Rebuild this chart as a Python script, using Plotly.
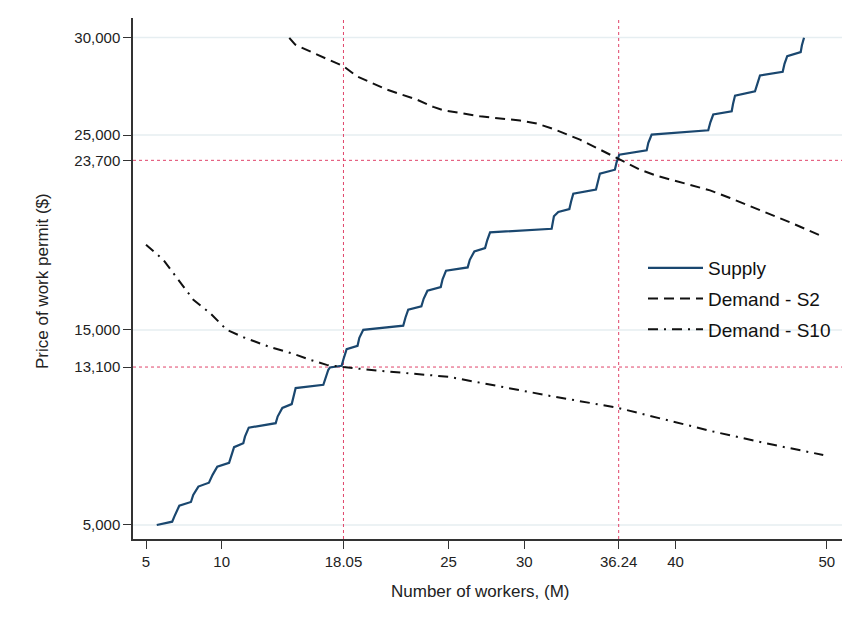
import plotly.graph_objects as go

# ---------------- data ----------------
supply_x = [5.71, 6.73, 6.87, 7.20, 7.97, 8.12, 8.46, 9.16, 9.40, 9.71,
            10.49, 10.67, 10.82, 11.43, 11.54, 11.79, 13.57, 13.70, 14.01,
            14.63, 14.74, 14.89, 16.72, 17.05, 17.16, 17.93, 18.05, 18.26,
            18.98, 19.10, 19.36, 22.00, 22.15, 22.33, 23.20, 23.35, 23.60,
            24.48, 24.60, 24.83, 26.26, 26.40, 26.70, 27.41, 27.55, 27.74,
            31.81, 31.96, 32.25, 32.98, 33.10, 33.24, 34.74, 34.85, 35.00,
            35.99, 36.10, 36.28, 38.09, 38.20, 38.42, 42.16, 42.30, 42.49,
            43.71, 43.80, 43.93, 45.25, 45.40, 45.58, 47.08, 47.20, 47.38,
            48.27, 48.35, 48.49]
supply_y = [5000, 5170, 5430, 5990, 6180, 6540, 6970, 7170, 7570, 7990,
            8190, 8590, 8990, 9190, 9530, 9990, 10220, 10560, 11000,
            11200, 11590, 12020, 12190, 12960, 13080, 13160, 13500, 14020,
            14190, 14600, 15010, 15220, 15640, 16040, 16210, 16600, 17010,
            17200, 17600, 18040, 18210, 18600, 19030, 19200, 19600, 20010,
            20190, 20830, 21050, 21200, 21600, 21990, 22200, 22600, 23020,
            23220, 23600, 23990, 24210, 24600, 25020, 25240, 25650, 26050,
            26220, 26600, 27020, 27240, 27650, 28050, 28240, 28650, 29040,
            29250, 29600, 29990]

s2_x = [14.47, 14.85, 16.28, 18.04, 18.93, 20.91, 22.89, 23.99, 24.65,
        27.08, 29.72, 30.82, 31.92, 33.68, 35.01, 36.33, 37.65, 38.75,
        40.74, 42.28, 43.60, 45.80, 47.78, 49.70]
s2_y = [29980, 29640, 29130, 28530, 28010, 27330, 26820, 26440, 26270,
        25960, 25740, 25590, 25310, 24760, 24250, 23740, 23220, 22910,
        22500, 22160, 21770, 21080, 20450, 19800]

s10_x = [5.00, 5.59, 6.14, 7.13, 8.13, 9.23, 10.33, 11.43, 13.20, 14.74,
         15.84, 16.94, 18.04, 20.24, 25.00, 28.62, 31.70, 36.11, 39.41,
         42.49, 46.46, 49.76]
s10_y = [19370, 18950, 18600, 17580, 16550, 15870, 15010, 14630, 14120,
         13780, 13470, 13210, 13100, 12920, 12600, 12070, 11620, 11020,
         10390, 9790, 9110, 8590]

x_ticks = [5, 10, 18.05, 25, 30, 36.24, 40, 50]
x_tick_labels = ["5", "10", "18.05", "25", "30", "36.24", "40", "50"]
y_ticks = [5000, 13100, 15000, 23700, 25000, 30000]
y_tick_labels = ["5,000", "13,100", "15,000", "23,700", "25,000", "30,000"]
grid_y = [5000, 15000, 25000, 30000]
eq_x = [18.05, 36.24]
eq_y = [13100, 23700]

series_names = ["Supply", "Demand - S2", "Demand - S10"]
x_title = "Number of workers, (M)"
y_title = "Price of work permit ($)"

# ---------------- figure ----------------
X_RANGE = [4.14, 51.0]
Y_RANGE = [4281, 31000]
FONT = "Liberation Sans, Arial, sans-serif"
GRID_C = "#e6eef1"
RED = "#e0446a"

OFF = 8  # page body margin in the browser
ML, MR, MT, MB = 133 - OFF, 9 + OFF, 18 - OFF, 86 + OFF
PW, PH = 851 - ML - MR, 625 - MT - MB


def px_x(p):  # screen pixel -> paper x
    return (p - OFF - ML) / PW


def px_y(p):  # screen pixel -> paper y
    return (MT + PH - (p - OFF)) / PH


fig = go.Figure()

shapes = []
for gy in grid_y:
    shapes.append(dict(type="line", xref="paper", x0=0, x1=1, yref="y", y0=gy, y1=gy,
                       line=dict(color=GRID_C, width=1.5), layer="below"))
for ey in eq_y:
    shapes.append(dict(type="line", xref="paper", x0=0, x1=1, yref="y", y0=ey, y1=ey,
                       line=dict(color=RED, width=1, dash="dot"), layer="below"))
for ex in eq_x:
    shapes.append(dict(type="line", xref="x", x0=ex, x1=ex, yref="paper", y0=0, y1=1,
                       line=dict(color=RED, width=1, dash="dot"), layer="below"))

fig.add_trace(go.Scatter(x=supply_x, y=supply_y, mode="lines", name=series_names[0],
                         legendgroup="a",
                         line=dict(color="#1a476f", width=2.2)))
fig.add_trace(go.Scatter(x=s2_x, y=s2_y, mode="lines", name=series_names[1],
                         legendgroup="b",
                         line=dict(color="#111111", width=2, dash="10px,6px")))
fig.add_trace(go.Scatter(x=s10_x, y=s10_y, mode="lines", name=series_names[2],
                         legendgroup="c",
                         line=dict(color="#111111", width=2, dash="10px,6px,2px,6px")))

annotations = [
    dict(text=x_title, xref="paper", yref="paper", x=px_x(480), y=px_y(591),
         xanchor="center", yanchor="middle", showarrow=False,
         font=dict(size=17, color="#222222", family=FONT)),
    dict(text=y_title, xref="paper", yref="paper", x=px_x(42), y=px_y(281), textangle=-90,
         xanchor="center", yanchor="middle", showarrow=False,
         font=dict(size=17, color="#222222", family=FONT)),
]

fig.update_layout(
    width=851, height=625,
    margin=dict(l=ML, r=MR, t=MT, b=MB, autoexpand=False),
    paper_bgcolor="white", plot_bgcolor="white",
    font=dict(family=FONT, color="#222222"),
    shapes=shapes,
    annotations=annotations,
    showlegend=True,
    legend=dict(x=px_x(643), y=px_y(249), xanchor="left", yanchor="top",
                bgcolor="rgba(0,0,0,0)", font=dict(size=19, color="#111111"),
                itemwidth=55, tracegroupgap=3, traceorder="grouped"),
    xaxis=dict(range=X_RANGE, tickmode="array", tickvals=x_ticks, ticktext=x_tick_labels,
               showgrid=False, zeroline=False, showline=True, linecolor="#333333",
               linewidth=1.5, ticks="outside", ticklen=8, tickwidth=1.2, tickcolor="#333333",
               tickfont=dict(size=15, color="#222222"), automargin=False),
    yaxis=dict(range=Y_RANGE, tickmode="array", tickvals=y_ticks, ticktext=y_tick_labels,
               showgrid=False, zeroline=False, showline=True, linecolor="#333333",
               linewidth=1.5, ticks="outside", ticklen=8, tickwidth=1.2, tickcolor="#333333",
               tickfont=dict(size=15, color="#222222"), automargin=False),
)

fig.write_html("out.html")
